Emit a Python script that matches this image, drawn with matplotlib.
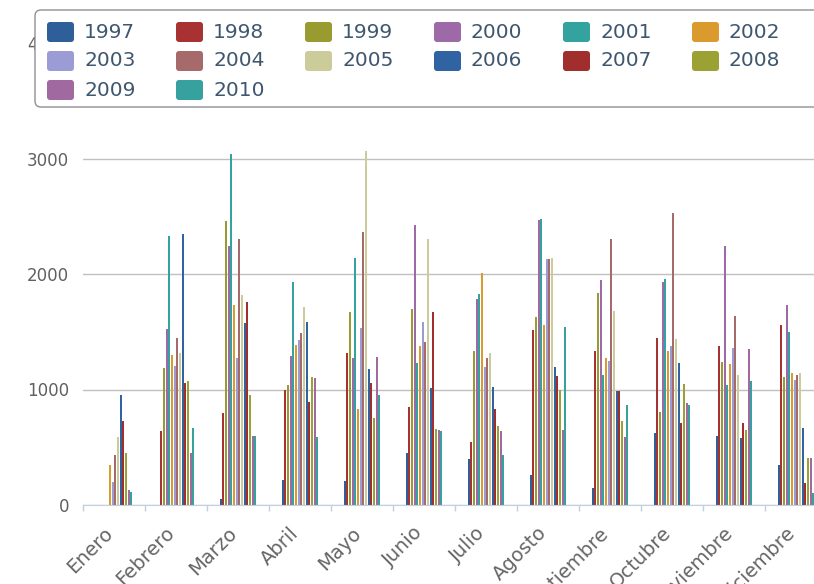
import numpy as np
import matplotlib
matplotlib.use("Agg")
import matplotlib.pyplot as plt
from matplotlib.patches import FancyBboxPatch
from matplotlib.transforms import ScaledTranslation

# months (category axis)
months = ['Enero', 'Febrero', 'Marzo', 'Abril', 'Mayo', 'Junio', 'Julio',
          'Agosto', 'Septiembre', 'Octubre', 'Noviembre', 'Diciembre']

years = ['1997', '1998', '1999', '2000', '2001', '2002', '2003',
         '2004', '2005', '2006', '2007', '2008', '2009', '2010']

colors = ['#2F5F98', '#A83232', '#999B31', '#9D69A6', '#34A3A0', '#DA9A2E', '#9B9BD6',
          '#A56A69', '#CCCC9B', '#2F63A1', '#A22D2D', '#9BA133', '#A069A0', '#36A19F']

# values per month, one entry per year (1997..2010)
enero      = [0, 0, 0, 0, 0, 350, 200, 430, 590, 950, 730, 450, 130, 110]
febrero    = [0, 640, 1190, 1520, 2330, 1300, 1200, 1450, 1320, 2350, 1060, 1070, 450, 670]
marzo      = [50, 800, 2460, 2240, 3040, 1730, 1270, 2300, 1820, 1580, 1760, 950, 600, 600]
abril      = [220, 1000, 1040, 1290, 1930, 1385, 1430, 1490, 1715, 1585, 890, 1110, 1100, 590]
mayo       = [210, 1315, 1670, 1270, 2140, 830, 1530, 2365, 3065, 1180, 1060, 750, 1280, 950]
junio      = [450, 850, 1700, 2425, 1230, 1380, 1585, 1410, 2300, 1010, 1670, 660, 650, 640]
julio      = [400, 545, 1335, 1785, 1825, 2010, 1195, 1270, 1315, 1020, 830, 685, 640, 430]
agosto     = [260, 1515, 1625, 2465, 2475, 1560, 2130, 2130, 2140, 1195, 1115, 1000, 650, 1545]
septiembre = [150, 1335, 1835, 1945, 1125, 1270, 1250, 2300, 1680, 985, 985, 730, 590, 865]
octubre    = [620, 1445, 805, 1930, 1955, 1335, 1380, 2530, 1435, 1230, 710, 1050, 880, 865]
noviembre  = [600, 1380, 1240, 2240, 1040, 1225, 1360, 1640, 1125, 580, 710, 650, 1350, 1075]
diciembre  = [350, 1560, 1110, 1730, 1500, 1145, 1080, 1125, 1140, 665, 190, 405, 410, 100]

data = np.array([enero, febrero, marzo, abril, mayo, junio, julio, agosto,
                 septiembre, octubre, noviembre, diciembre])  # shape (12, 14)

W, H = 814, 584
fig = plt.figure(figsize=(W / 100, H / 100), dpi=100)

# plot area: 0 at y=505px, 4000 at y=43px, x from 83px to 827px (cut off on the right)
ax = fig.add_axes([83 / W, (H - 505) / H, (827 - 83) / W, (505 - 43) / H])

x = np.arange(len(months))
n = len(years)
group = 0.6
slot = group / n
for j in range(n):
    ax.bar(x - group / 2 + slot * (j + 0.5), data[:, j], width=slot * 0.82,
           color=colors[j], linewidth=0, zorder=3)

ax.set_xlim(-0.5, len(months) - 0.5)
ax.set_ylim(0, 4000)
ax.set_yticks([0, 1000, 2000, 3000, 4000])
ax.yaxis.grid(True, color='#C0C0C0', linewidth=1)
ax.set_axisbelow(True)
for s in ['left', 'right', 'top']:
    ax.spines[s].set_visible(False)
ax.spines['bottom'].set_color('#C0D0E0')
ax.spines['bottom'].set_zorder(4)

ax.tick_params(axis='y', length=0, pad=10, labelsize=12, labelcolor='#606060')
ax.set_xticks(np.arange(len(months) + 1) - 0.5)
ax.set_xticklabels([])
ax.tick_params(axis='x', which='major', length=4, color='#C0D0E0', width=1)
ax.set_xticks(x, minor=True)
ax.set_xticklabels(months, minor=True, rotation=45, ha='right', va='center',
                   rotation_mode='anchor', fontsize=14, color='#666666')
ax.tick_params(axis='x', which='minor', length=0, pad=18)
for lab in ax.get_xticklabels(minor=True):
    lab.set_transform(lab.get_transform() + ScaledTranslation(-0.04, 0, fig.dpi_scale_trans))

# legend box, drawn by hand so it matches the screenshot layout
box = FancyBboxPatch((0.35, (H - 107) / 100), 8.2, 0.97,
                     boxstyle='round,pad=0,rounding_size=0.06',
                     transform=fig.dpi_scale_trans, facecolor='white',
                     edgecolor='#909090', linewidth=1, zorder=10)
fig.add_artist(box)
for i, (name, c) in enumerate(zip(years, colors)):
    col, row = i % 6, i // 6
    cx = 47 + col * 129
    cy = 32 + row * 29
    sw = FancyBboxPatch((cx / 100, (H - cy - 10) / 100), 0.27, 0.20,
                        boxstyle='round,pad=0,rounding_size=0.03',
                        transform=fig.dpi_scale_trans, facecolor=c,
                        edgecolor='none', zorder=11)
    fig.add_artist(sw)
    fig.text((cx + 37) / W, 1 - cy / H, name, ha='left', va='center',
             fontsize=14.5, color='#3E576F', zorder=12)

fig.savefig('out.png', dpi=100)
